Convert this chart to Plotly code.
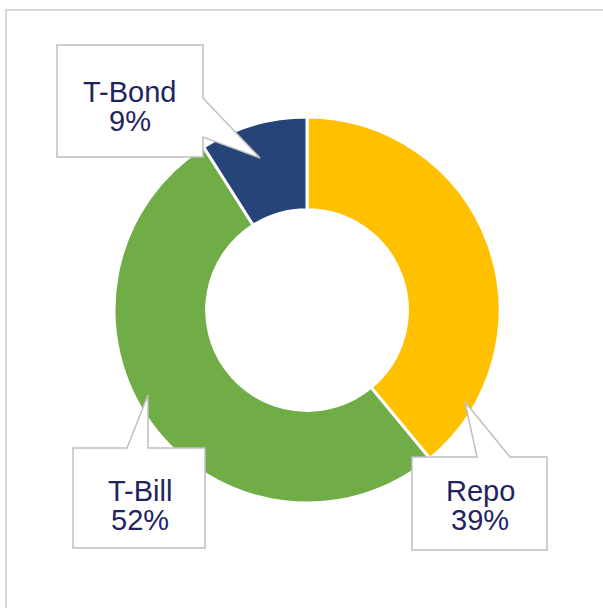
import plotly.graph_objects as go

# ---- data ----
labels = ["Repo", "T-Bill", "T-Bond"]
values = [39, 52, 9]
colors = ["#FFC000", "#70AD47", "#264478"]

W, H = 603, 608

def px(x):
    return x / W

def py(y):
    return 1 - y / H

# callout layout (pixel coords): outline polygon (box with pointer) and text centre
callouts = {
    "T-Bond": dict(path=[(57, 45), (203, 45), (203, 98), (260, 158), (203, 137), (203, 157), (57, 157)],
                   text=(130, 106)),
    "T-Bill": dict(path=[(73, 448), (127, 448), (148, 395), (148, 448), (205, 448), (205, 548), (73, 548)],
                   text=(140, 505)),
    "Repo": dict(path=[(412, 457), (477, 457), (465, 402), (510, 457), (547, 457), (547, 550), (412, 550)],
                 text=(480, 505)),
}

fig = go.Figure()

cx, cy, R = 307, 310, 193
fig.add_trace(go.Pie(
    labels=labels,
    values=values,
    hole=0.52,
    sort=False,
    direction="clockwise",
    rotation=0,
    marker=dict(colors=colors, line=dict(color="white", width=3)),
    textinfo="none",
    hoverinfo="label+percent",
    showlegend=False,
    domain=dict(x=[px(cx - R), px(cx + R)], y=[py(cy + R), py(cy - R)]),
))

shapes = [
    dict(type="rect", xref="paper", yref="paper",
         x0=px(6), y0=-0.05, x1=1.05, y1=py(10),
         line=dict(color="#D9D9D9", width=2), fillcolor="rgba(0,0,0,0)", layer="below"),
]
annotations = []
total = sum(values)
font = dict(family="Liberation Sans, Arial, sans-serif", size=29, color="#1F2460")
for lab, val in zip(labels, values):
    c = callouts[lab]
    pts = c["path"]
    d = "M " + " L ".join(f"{px(x):.5f},{py(y):.5f}" for x, y in pts) + " Z"
    shapes.append(dict(type="path", xref="paper", yref="paper", path=d,
                       line=dict(color="#BFBFBF", width=1.5), fillcolor="white", layer="above"))
    tx, ty = c["text"]
    for txt, dy in ((lab, -14), (f"{round(val / total * 100)}%", 15)):
        annotations.append(dict(
            x=px(tx), y=py(ty + dy), xref="paper", yref="paper", showarrow=False,
            text=txt, font=font, align="center", xanchor="center", yanchor="middle",
        ))

fig.update_layout(
    width=W, height=H,
    margin=dict(l=0, r=0, t=0, b=0),
    paper_bgcolor="white",
    plot_bgcolor="white",
    shapes=shapes,
    annotations=annotations,
)

fig.write_html("out.html", config={"displayModeBar": False},
               post_script="document.body.style.margin='0px';")
